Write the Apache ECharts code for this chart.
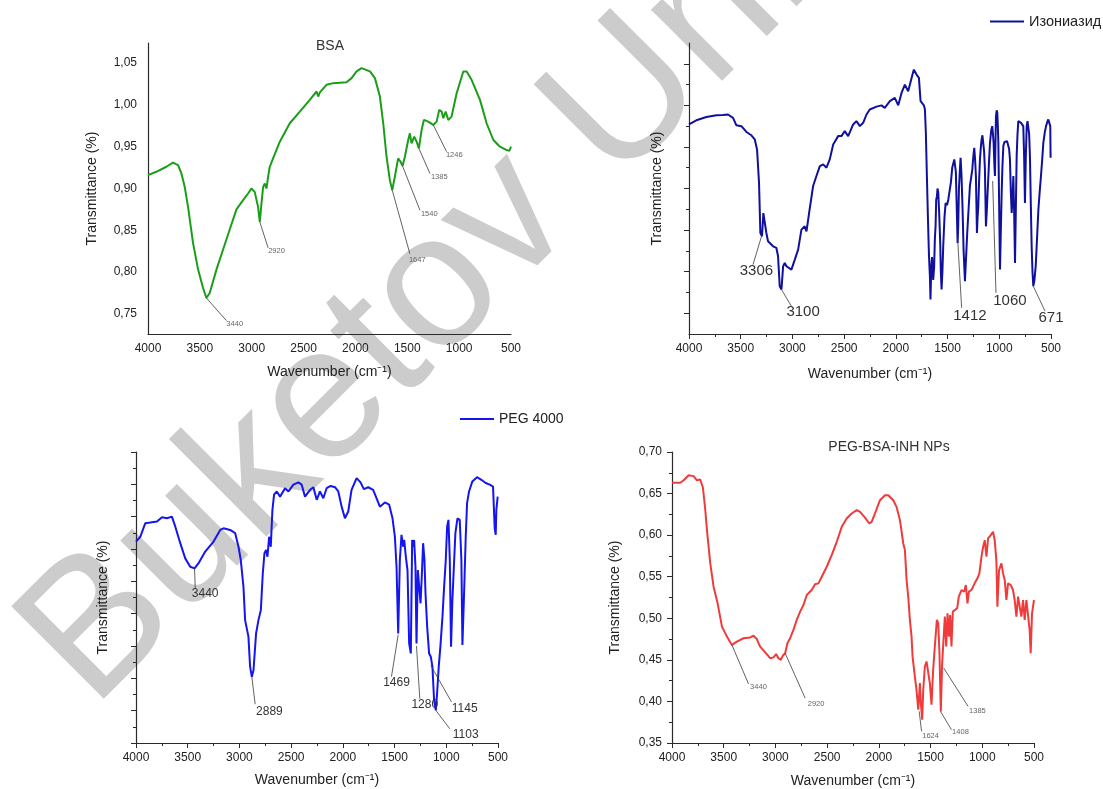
<!DOCTYPE html>
<html>
<head>
<meta charset="utf-8">
<script src="https://cdn.jsdelivr.net/npm/echarts@6/dist/echarts.min.js"></script>
<style>
html,body{margin:0;padding:0;background:#fff;}
#chart{width:1103px;height:789px;}
</style>
</head>
<body>
<div id="chart"></div>
<script>
// ---------- DATA ----------
// BSA
const bsaWn = [4000,3920,3823,3759,3710,3678,3646,3614,3566,3517,3469,3437,3405,3340,3276,3212,3147,3083,3035,3003,2971,2939,2922,2906,2890,2874,2858,2842,2826,2794,2729,2633,2536,2440,2375,2359,2343,2279,2214,2086,2037,1989,1941,1860,1812,1764,1732,1700,1668,1645,1620,1588,1565,1546,1523,1491,1475,1459,1433,1410,1388,1362,1340,1298,1249,1217,1192,1169,1153,1130,1105,1073,1024,960,928,880,799,735,670,606,542,516,500];
const bsaT  = [0.916,0.920,0.926,0.931,0.928,0.918,0.902,0.878,0.835,0.803,0.781,0.769,0.775,0.803,0.827,0.851,0.875,0.886,0.894,0.900,0.896,0.878,0.860,0.882,0.902,0.906,0.900,0.914,0.926,0.936,0.956,0.978,0.992,1.006,1.016,1.010,1.015,1.024,1.026,1.027,1.032,1.040,1.044,1.040,1.032,1.010,0.978,0.938,0.910,0.898,0.914,0.936,0.932,0.927,0.938,0.958,0.966,0.954,0.962,0.956,0.948,0.970,0.982,0.980,0.976,0.980,0.994,0.992,0.984,0.992,0.982,0.986,1.014,1.040,1.040,1.030,1.006,0.978,0.958,0.950,0.946,0.945,0.950];

// Isoniazid (arbitrary transmittance units)
const inhWn = [4000,3929,3832,3735,3671,3623,3574,3542,3493,3445,3397,3364,3342,3323,3310,3294,3281,3268,3252,3236,3187,3155,3139,3123,3106,3090,3074,3058,3042,3010,2977,2945,2913,2881,2864,2839,2800,2768,2735,2703,2671,2639,2606,2558,2526,2494,2461,2413,2381,2348,2316,2284,2252,2187,2139,2107,2058,2010,1977,1945,1913,1881,1848,1826,1800,1777,1761,1745,1729,1719,1710,1700,1690,1680,1671,1665,1658,1650,1645,1639,1630,1623,1616,1610,1603,1597,1590,1581,1571,1565,1558,1550,1542,1530,1519,1505,1493,1480,1468,1455,1445,1435,1429,1420,1413,1403,1397,1390,1380,1374,1365,1355,1345,1332,1320,1310,1297,1284,1270,1261,1250,1242,1234,1226,1216,1210,1203,1195,1187,1178,1171,1163,1155,1147,1139,1129,1120,1113,1100,1090,1078,1068,1061,1055,1048,1042,1037,1032,1025,1019,1014,1009,1001,993,985,977,970,961,950,939,925,913,905,897,888,880,872,864,856,848,840,832,824,816,800,790,778,768,760,752,744,735,727,719,711,703,695,687,679,671,660,648,635,622,610,597,585,574,560,548,536,526,513,507,504];
const inhT  = [5.04,5.14,5.22,5.26,5.27,5.28,5.20,5.02,5.00,4.86,4.78,4.68,4.44,3.64,2.43,2.35,2.91,2.95,2.43,2.23,2.11,2.07,1.87,1.15,1.07,1.63,1.71,1.63,1.67,1.55,1.79,2.03,2.51,2.59,2.47,2.91,3.56,3.80,4.04,4.08,4.00,4.20,4.56,4.76,4.76,4.88,4.76,5.04,5.12,5.00,5.08,5.28,5.40,5.47,5.50,5.44,5.60,5.68,5.50,5.80,6.00,5.84,6.16,6.36,6.24,6.16,5.60,5.56,5.50,5.40,4.84,3.80,2.80,1.90,1.40,0.83,1.60,1.85,1.60,1.30,1.60,2.27,2.60,3.23,3.31,3.50,3.40,2.90,2.19,1.50,1.07,1.50,2.11,2.80,3.15,3.10,3.23,3.45,3.64,4.00,4.04,4.20,4.20,3.90,3.20,2.19,2.60,3.50,4.00,4.24,3.80,3.00,2.00,1.27,1.90,2.43,3.00,3.56,3.80,3.96,4.30,4.48,4.20,3.80,2.43,2.80,3.07,3.70,4.20,4.50,4.68,4.78,4.76,4.40,3.96,2.59,3.00,3.39,4.10,4.60,4.90,5.00,4.80,4.60,4.10,3.80,4.60,5.24,5.38,5.32,5.00,4.60,3.00,1.55,2.50,3.39,4.00,4.52,4.62,4.64,4.64,4.60,4.45,4.20,3.40,2.91,3.30,3.80,2.90,1.71,3.00,4.28,4.80,5.12,5.12,5.08,5.05,5.00,4.30,3.15,4.20,5.00,5.12,5.08,4.80,4.20,3.10,2.11,1.50,1.15,1.30,1.63,2.30,2.99,3.40,3.80,4.20,4.60,4.85,5.00,5.10,5.16,5.20,5.00,4.24];

// PEG 4000 (arbitrary transmittance units)
const pegWn = [4000,3958,3910,3862,3797,3749,3701,3653,3620,3572,3524,3476,3434,3395,3331,3250,3186,3154,3090,3041,3009,2987,2961,2945,2913,2897,2880,2864,2839,2816,2793,2774,2758,2742,2729,2713,2697,2681,2665,2639,2607,2559,2526,2478,2430,2398,2366,2317,2285,2253,2221,2189,2157,2118,2076,2044,2012,1980,1948,1916,1867,1829,1797,1755,1707,1668,1642,1594,1552,1520,1497,1481,1465,1449,1433,1417,1407,1391,1375,1359,1343,1330,1320,1311,1298,1288,1275,1262,1249,1237,1224,1211,1201,1185,1166,1150,1134,1118,1101,1089,1073,1057,1037,1021,1005,992,979,966,954,941,928,912,892,870,854,844,828,812,799,780,748,703,661,619,580,548,532,522,516,503];
const pegT  = [6.23,6.38,6.80,6.82,6.85,6.98,6.95,7.00,6.69,6.18,5.71,5.45,5.40,5.56,5.92,6.23,6.59,6.64,6.59,6.49,6.07,5.66,4.83,3.80,3.29,2.36,2.05,2.25,3.39,3.80,4.11,5.25,5.87,5.97,5.76,6.38,6.07,7.21,7.68,7.78,7.62,7.88,7.78,7.99,8.06,7.99,7.62,7.83,7.91,7.52,7.78,7.57,7.88,7.95,7.91,7.78,7.31,6.95,7.16,7.83,8.19,8.06,7.85,7.91,7.83,7.52,7.31,7.44,7.37,6.95,6.38,5.45,3.39,5.66,6.44,6.07,6.28,5.76,5.35,3.08,2.77,6.28,6.07,6.28,5.45,3.08,5.35,4.83,4.32,5.14,6.18,5.66,4.63,3.60,2.77,2.67,2.36,1.32,1.01,1.53,2.36,2.98,3.90,4.83,5.66,6.69,6.90,5.66,2.98,4.42,5.35,6.49,6.95,6.90,5.66,3.03,4.63,6.38,7.42,7.78,8.09,8.22,8.14,8.04,7.99,7.93,6.64,6.44,7.21,7.62];

// PEG-BSA-INH NPs
const npsWn = [4000,3920,3887,3839,3791,3759,3727,3701,3678,3662,3630,3598,3559,3517,3469,3421,3373,3308,3244,3212,3180,3148,3099,3051,3019,2993,2971,2948,2929,2906,2884,2858,2826,2794,2761,2729,2697,2649,2617,2584,2552,2504,2456,2407,2359,2311,2263,2214,2182,2134,2092,2070,2038,1989,1941,1909,1861,1829,1796,1764,1748,1732,1716,1700,1684,1674,1652,1636,1619,1603,1594,1581,1571,1555,1539,1523,1507,1491,1475,1459,1439,1426,1414,1401,1388,1375,1362,1349,1336,1323,1311,1298,1285,1266,1243,1227,1201,1176,1159,1143,1130,1105,1089,1066,1047,1028,1008,992,976,960,944,918,896,880,864,854,838,815,799,783,767,751,725,703,687,670,654,638,622,606,590,574,558,542,532,519,500];
const npsT  = [0.663,0.663,0.666,0.672,0.671,0.666,0.667,0.657,0.630,0.606,0.566,0.538,0.518,0.490,0.478,0.468,0.472,0.476,0.477,0.479,0.475,0.466,0.459,0.452,0.453,0.457,0.452,0.450,0.455,0.458,0.470,0.476,0.486,0.498,0.508,0.516,0.528,0.534,0.541,0.542,0.550,0.562,0.576,0.592,0.610,0.620,0.626,0.630,0.628,0.621,0.614,0.616,0.626,0.642,0.648,0.648,0.642,0.634,0.618,0.590,0.582,0.546,0.526,0.498,0.478,0.454,0.430,0.414,0.390,0.422,0.398,0.378,0.414,0.442,0.448,0.446,0.422,0.396,0.438,0.466,0.498,0.494,0.458,0.388,0.446,0.474,0.502,0.466,0.506,0.478,0.504,0.466,0.508,0.510,0.512,0.526,0.534,0.532,0.540,0.518,0.532,0.534,0.538,0.544,0.548,0.554,0.574,0.586,0.594,0.574,0.596,0.600,0.604,0.594,0.570,0.514,0.558,0.566,0.554,0.546,0.522,0.542,0.540,0.534,0.522,0.502,0.526,0.514,0.502,0.522,0.498,0.522,0.520,0.486,0.458,0.506,0.522];

// Tick labels / names
const xTickStep = 500;
const bsaYLabels = [0.75,0.80,0.85,0.90,0.95,1.00,1.05];
const inhMajorTicks = [0.5,1.5,2.5,3.5,4.5,5.5,6.5];
const inhMinorTicks = [1,2,3,4,5,6];
const seriesNames = ['BSA','Изониазид','PEG 4000','PEG-BSA-INH NPs'];

// Peak labels (text + the curve point they mark)
const bsaPeaks = ['3440','2920','1647','1540','1385','1246'];
const bsaPeakPts = [[3437,0.769],[2922,0.860],[1645,0.898],[1546,0.927],[1388,0.948],[1249,0.976]];
const inhPeaks = ['3306','3100','1412','1060','671'];
const inhPeakPts = [[3294,2.39],[3106,1.07],[1403,2.30],[1064,3.68],[671,1.15]];
const pegPeaks = ['3440','2889','1469','1280','1145','1103'];
const pegPeakPts = [[3434,5.40],[2880,2.05],[1465,3.35],[1288,3.00],[1150,2.40],[1101,1.01]];
const npsPeaks = ['3440','2920','1624','1408','1385'];
const npsPeakPts = [[3421,0.468],[2906,0.458],[1610,0.388],[1404,0.388],[1372,0.440]];

// ---------- LAYOUT (leader line ends and label anchors, in axis units) ----------
const bsaLead = [[[3244,0.742],[3164,0.738]],[[2842,0.829],[2761,0.825]],[[1475,0.822],[1404,0.814]],[[1378,0.874],[1288,0.869]],[[1282,0.918],[1192,0.914]],[[1121,0.944],[1047,0.940]]];
const inhLead = [[[3381,1.67],[3348,1.51]],[[3010,0.67],[2897,0.53]],[[1364,0.63],[1284,0.43]],[[1032,0.99],[897,0.80]],[[558,0.55],[500,0.39]]];
const pegLead = [[[3427,4.78],[3331,4.63]],[[2848,1.20],[2710,0.96]],[[1530,2.05],[1481,1.86]],[[1256,1.37],[1208,1.20]],[[950,1.27],[822,1.06]],[[966,0.44],[812,0.26]]];
const npsLead = [[[3260,0.421],[3164,0.418]],[[2713,0.404],[2607,0.397]],[[1587,0.364],[1500,0.359]],[[1298,0.366],[1211,0.363]],[[1137,0.394],[1047,0.388]]];

// ---------- CHART ----------
const FONT = '"Liberation Sans", Arial, Helvetica, sans-serif';
const AXIS_COLOR = '#2a2a2a';
const TEXT_COLOR = '#222';
const comma = v => v.toFixed(2).replace('.', ',');
const plain = v => String(Math.round(v));
const pairs = (xs, ys) => xs.map((x, i) => [x, ys[i]]);

function annotations(texts, pts, lead, fontSize, color) {
  return {
    markLine: {
      silent: true, animation: false, symbol: ['none', 'none'],
      lineStyle: { color: '#3a3a3a', width: 0.8, type: 'solid' },
      label: { show: false }, emphasis: { disabled: true },
      data: pts.map((p, i) => [{ coord: p }, { coord: lead[i][0] }])
    },
    markPoint: {
      silent: true, animation: false, symbol: 'circle', symbolSize: 0,
      label: { show: true, position: 'inside', formatter: '{b}', color: color, fontSize: fontSize, fontFamily: FONT },
      data: texts.map((t, i) => ({ name: t, coord: lead[i][1] }))
    }
  };
}

function xAxisCfg(grid, ticks, nameGap) {
  return {
    gridIndex: grid, type: 'value', min: 500, max: 4000, interval: xTickStep, inverse: true,
    axisLine: { show: true, onZero: false, lineStyle: { color: AXIS_COLOR, width: 1.2 } },
    axisTick: { show: ticks, length: 5, lineStyle: { color: AXIS_COLOR, width: 1 } },
    minorTick: { show: ticks, splitNumber: 2, length: 3, lineStyle: { color: AXIS_COLOR, width: 1 } },
    splitLine: { show: false },
    axisLabel: { formatter: plain, fontSize: 12, color: TEXT_COLOR, margin: 9, fontFamily: FONT, showMinLabel: true, showMaxLabel: true },
    name: 'Wavenumber (cm\u207B\u00B9)', nameLocation: 'middle', nameGap: nameGap,
    nameTextStyle: { fontSize: 14, color: TEXT_COLOR, fontFamily: FONT }
  };
}

const yName = 'Transmittance (%)';
const yNameStyle = { fontSize: 14, color: TEXT_COLOR, fontFamily: FONT };

const option = {
  animation: false,
  backgroundColor: '#ffffff',
  textStyle: { fontFamily: FONT },
  grid: [
    { left: 148, right: 592, top: 43, bottom: 455 },
    { left: 689, right: 52, top: 43, bottom: 455 },
    { left: 136, right: 605, top: 452, bottom: 46 },
    { left: 672, right: 69, top: 452, bottom: 46 }
  ],
  xAxis: [
    xAxisCfg(0, false, 31),
    xAxisCfg(1, true, 33),
    xAxisCfg(2, true, 30),
    xAxisCfg(3, true, 31)
  ],
  yAxis: [
    { gridIndex: 0, type: 'value', min: 0.726, max: 1.074, position: 'left',
      axisLine: { show: true, onZero: false, lineStyle: { color: AXIS_COLOR, width: 1.2 } },
      axisTick: { show: false }, splitLine: { show: false },
      axisLabel: { customValues: bsaYLabels, formatter: comma, fontSize: 12, color: TEXT_COLOR, margin: 11, fontFamily: FONT },
      name: yName, nameLocation: 'middle', nameGap: 49, nameTextStyle: yNameStyle },
    { gridIndex: 1, type: 'value', min: 0, max: 7, position: 'left',
      axisLine: { show: true, onZero: false, lineStyle: { color: AXIS_COLOR, width: 1.2 } },
      axisTick: { show: true, customValues: inhMajorTicks, length: 5, lineStyle: { color: AXIS_COLOR } },
      axisLabel: { show: false }, splitLine: { show: false },
      name: yName, nameLocation: 'middle', nameGap: 25, nameTextStyle: yNameStyle },
    { gridIndex: 1, type: 'value', min: 0, max: 7, position: 'left', offset: 0,
      axisLine: { show: false, onZero: false },
      axisTick: { show: true, customValues: inhMinorTicks, length: 3, lineStyle: { color: AXIS_COLOR } },
      axisLabel: { show: false }, splitLine: { show: false } },
    { gridIndex: 2, type: 'value', min: 0, max: 9, interval: 1, position: 'left',
      axisLine: { show: true, onZero: false, lineStyle: { color: AXIS_COLOR, width: 1.2 } },
      axisTick: { show: true, length: 5, lineStyle: { color: AXIS_COLOR } },
      minorTick: { show: true, splitNumber: 2, length: 3, lineStyle: { color: AXIS_COLOR } },
      axisLabel: { show: false }, splitLine: { show: false },
      name: yName, nameLocation: 'middle', nameGap: 26, nameTextStyle: yNameStyle },
    { gridIndex: 3, type: 'value', min: 0.35, max: 0.70, interval: 0.05, position: 'left',
      axisLine: { show: true, onZero: false, lineStyle: { color: AXIS_COLOR, width: 1.2 } },
      axisTick: { show: true, length: 5, lineStyle: { color: AXIS_COLOR } },
      minorTick: { show: true, splitNumber: 2, length: 3, lineStyle: { color: AXIS_COLOR } },
      axisLabel: { formatter: comma, fontSize: 12, color: TEXT_COLOR, margin: 10, fontFamily: FONT },
      splitLine: { show: false },
      name: yName, nameLocation: 'middle', nameGap: 50, nameTextStyle: yNameStyle }
  ],
  legend: [
    { data: [seriesNames[1]], left: 990, top: 14, padding: 0, icon: 'rect', itemWidth: 34, itemHeight: 2,
      textStyle: { fontSize: 14.5, color: TEXT_COLOR, fontFamily: FONT } },
    { data: [seriesNames[2]], left: 460, top: 412, padding: 0, icon: 'rect', itemWidth: 34, itemHeight: 2,
      textStyle: { fontSize: 14, color: TEXT_COLOR, fontFamily: FONT } }
  ],
  graphic: [
    { type: 'text', x: 123, y: 740, rotation: Math.PI / 4, z: -100, silent: true,
      style: { text: 'Buketov University', font: '190px "Liberation Sans", Arial, sans-serif', fill: '#cccccc', verticalAlign: 'bottom', align: 'left' } },
    { type: 'text', x: 330, y: 46, silent: true,
      style: { text: seriesNames[0], font: '14px ' + FONT, fill: '#333', align: 'center', verticalAlign: 'middle' } },
    { type: 'text', x: 889, y: 447, silent: true,
      style: { text: seriesNames[3], font: '14px ' + FONT, fill: '#333', align: 'center', verticalAlign: 'middle' } }
  ],
  series: [
    Object.assign({ name: seriesNames[0], type: 'line', xAxisIndex: 0, yAxisIndex: 0, showSymbol: false, symbol: 'none',
      data: pairs(bsaWn, bsaT), itemStyle: { color: '#1a9e1a' }, lineStyle: { color: '#1a9e1a', width: 2 } },
      annotations(bsaPeaks, bsaPeakPts, bsaLead, 7.5, '#666')),
    Object.assign({ name: seriesNames[1], type: 'line', xAxisIndex: 1, yAxisIndex: 1, showSymbol: false, symbol: 'none',
      data: pairs(inhWn, inhT), itemStyle: { color: '#10109e' }, lineStyle: { color: '#10109e', width: 2 } },
      annotations(inhPeaks, inhPeakPts, inhLead, 15, '#333')),
    Object.assign({ name: seriesNames[2], type: 'line', xAxisIndex: 2, yAxisIndex: 3, showSymbol: false, symbol: 'none',
      data: pairs(pegWn, pegT), itemStyle: { color: '#1515f0' }, lineStyle: { color: '#1515f0', width: 2 } },
      annotations(pegPeaks, pegPeakPts, pegLead, 12, '#333')),
    Object.assign({ name: seriesNames[3], type: 'line', xAxisIndex: 3, yAxisIndex: 4, showSymbol: false, symbol: 'none',
      data: pairs(npsWn, npsT), itemStyle: { color: '#ef3b3b' }, lineStyle: { color: '#ef3b3b', width: 2 } },
      annotations(npsPeaks, npsPeakPts, npsLead, 7.5, '#666'))
  ]
};

const chart = echarts.init(document.getElementById('chart'), null, { renderer: 'canvas' });
chart.setOption(option);
</script>
</body>
</html>
